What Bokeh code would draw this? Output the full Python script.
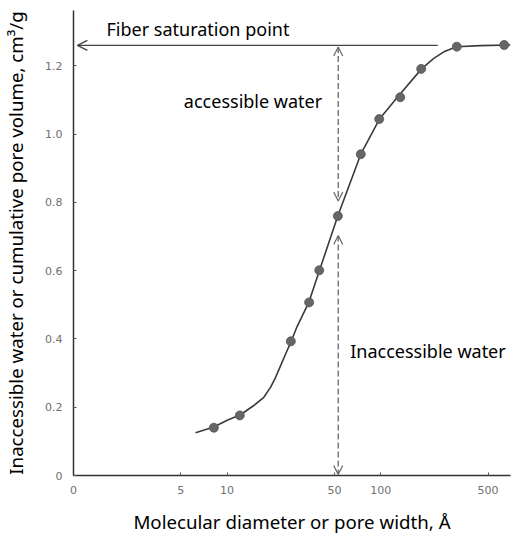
from bokeh.plotting import figure
from bokeh.models import Range1d, FixedTicker, Arrow, OpenHead, Label
from bokeh.embed import file_html
from bokeh.resources import INLINE

# ---- data ----
# measured points: molecular diameter / pore width (Å) and cumulative pore volume (cm3/g)
point_x = [8.2, 12.1, 26.0, 34.2, 39.8, 52.6, 74.2, 97.8, 134, 183.5, 313, 637]
point_y = [0.140, 0.176, 0.393, 0.507, 0.601, 0.760, 0.941, 1.044, 1.108, 1.191, 1.256, 1.261]

# hand-drawn fitted curve, read along its path
curve_x = [6.23, 8.19, 10.02, 12.23, 14.92, 17.34, 19.17, 20.66, 22.27, 24.0, 26.14, 28.6,
           34.03, 39.96, 52.56, 74.2, 98.2, 128.1, 184.4, 221.7, 257.6, 311.5, 446, 700]
curve_y = [0.125, 0.142, 0.162, 0.178, 0.205, 0.229, 0.258, 0.287, 0.321, 0.355, 0.393, 0.437,
           0.507, 0.601, 0.760, 0.941, 1.044, 1.107, 1.191, 1.222, 1.241, 1.256, 1.259, 1.261]

fiber_saturation = 1.26    # cm3/g
probe_diameter = 52.9      # Å, where accessible/inaccessible split is shown

x_tick_values = [1, 5, 10, 50, 100, 500]
x_tick_labels = ["0", "5", "10", "50", "100", "500"]
y_tick_values = [0, 0.2, 0.4, 0.6, 0.8, 1.0, 1.2]
y_tick_labels = ["0", "0.2", "0.4", "0.6", "0.8", "1.0", "1.2"]

x_title = "Molecular diameter or pore width, Å"
y_title = "Inaccessible water or cumulative pore volume, cm³/g"

FONT = "Noto Sans"

p = figure(width=518, height=536, x_axis_type="log",
           x_range=Range1d(1, 700), y_range=Range1d(0, 1.362),
           output_backend="svg", toolbar_location=None,
           min_border_left=73, min_border_right=8, min_border_top=10, min_border_bottom=55)
p.outline_line_color = None
p.grid.visible = False
p.background_fill_color = "white"
p.border_fill_color = "white"

# axes
for ax in (p.xaxis[0], p.yaxis[0]):
    ax.axis_line_color = "#333333"
    ax.axis_line_width = 1.5
    ax.major_tick_in = 3
    ax.major_tick_out = 0
    ax.major_tick_line_color = "#555555"
    ax.minor_tick_line_color = None
    ax.major_label_text_font = "DejaVu Sans"
    ax.major_label_text_font_size = "11px"
    ax.major_label_text_color = "#707070"
    ax.axis_label_text_font = FONT
    ax.axis_label_text_font_size = "18.7px"
    ax.axis_label_text_font_style = "normal"
    ax.axis_label_text_color = "black"

p.xaxis[0].ticker = FixedTicker(ticks=x_tick_values)
p.xaxis[0].major_label_overrides = {v: l for v, l in zip(x_tick_values, x_tick_labels)}
p.xaxis[0].major_label_standoff = 10
p.xaxis[0].axis_label = x_title
p.xaxis[0].axis_label_standoff = 12

p.yaxis[0].ticker = FixedTicker(ticks=y_tick_values)
p.yaxis[0].major_label_overrides = {v: l for v, l in zip(y_tick_values, y_tick_labels)}
p.yaxis[0].major_label_standoff = 11
p.yaxis[0].axis_label = y_title
p.yaxis[0].axis_label_standoff = 14

# curve and points
p.line(curve_x, curve_y, line_color="#3a3a3a", line_width=1.6)
p.scatter(point_x, point_y, size=9, fill_color="#666666", line_color="#555555", line_width=0.8)

# fiber saturation point arrow
p.add_layout(Arrow(end=OpenHead(size=10, line_color="#444444", line_width=1.3),
                   x_start=235, y_start=fiber_saturation, x_end=1.06, y_end=fiber_saturation,
                   line_color="#444444", line_width=1.3))

# dashed double arrows
dash_col = "#666666"
p.add_layout(Arrow(start=OpenHead(size=9, line_color=dash_col, line_width=1.2),
                   end=OpenHead(size=9, line_color=dash_col, line_width=1.2),
                   x_start=probe_diameter, y_start=fiber_saturation - 0.005,
                   x_end=probe_diameter, y_end=0.804,
                   line_color=dash_col, line_width=1.3, line_dash="6 3"))
p.add_layout(Arrow(start=OpenHead(size=9, line_color=dash_col, line_width=1.2),
                   end=OpenHead(size=9, line_color=dash_col, line_width=1.2),
                   x_start=probe_diameter, y_start=0.703,
                   x_end=probe_diameter, y_end=0.003,
                   line_color=dash_col, line_width=1.3, line_dash="6 3"))

# annotations
for txt, x, y in [("Fiber saturation point", 1.64, 1.309),
                  ("accessible water", 5.23, 1.097),
                  ("Inaccessible water", 63.3, 0.364)]:
    p.add_layout(Label(x=x, y=y, text=txt, text_font=FONT, text_font_size="18px",
                       text_color="black", text_align="left", text_baseline="middle"))

open("out.html", "w").write(file_html(p, INLINE))
